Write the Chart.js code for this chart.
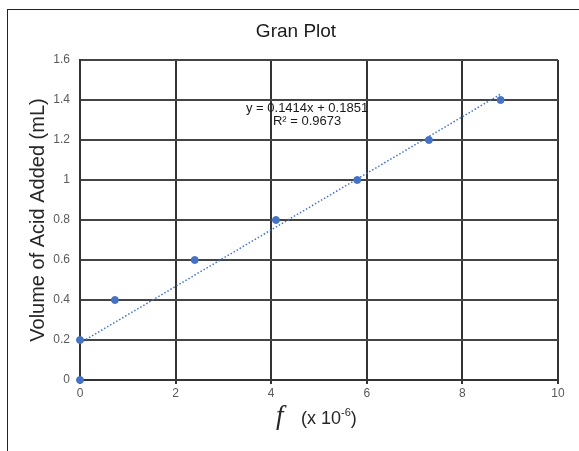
<!DOCTYPE html>
<html>
<head>
<meta charset="utf-8">
<script src="https://cdn.jsdelivr.net/npm/chart.js@4.4.0/dist/chart.umd.min.js"></script>
<style>
  body { margin: 0; background: #fff; }
  #wrap { position: relative; width: 579px; height: 451px; overflow: hidden; }
  #frame { position: absolute; left: 7px; top: 9px; width: 620px; height: 520px; border: 1px solid #222; }
  #granChart { position: absolute; left: 0; top: 0; }
</style>
</head>
<body>
<div id="wrap">
  <div id="frame"></div>
  <canvas id="granChart" width="579" height="451"></canvas>
</div>
<script>
// f values (x 10^-6) and volume of acid added (mL)
const fValues = [0, 0, 0.73, 2.4, 4.1, 5.8, 7.3, 8.8];
const acidVolumes = [0, 0.2, 0.4, 0.6, 0.8, 1.0, 1.2, 1.4];

// linear trendline from the fit
const slope = 0.1414;
const intercept = 0.1851;
const rSquared = 0.9673;
const trendX = [0, 8.8];

const xTicks = [0, 2, 4, 6, 8, 10];
const yTicks = [0, 0.2, 0.4, 0.6, 0.8, 1, 1.2, 1.4, 1.6];

const blue = '#4472C4';
const font = "'Liberation Sans', Arial, sans-serif";

const points = fValues.map((x, i) => ({ x: x, y: acidVolumes[i] }));
const trend = trendX.map(x => ({ x: x, y: slope * x + intercept }));

// chart title, x axis title with superscript, trendline equation
const labelsPlugin = {
    id: 'labels',
    afterDraw(chart) {
        const ctx = chart.ctx;
        const xs = chart.scales.x, ys = chart.scales.y;
        ctx.save();
        ctx.fillStyle = '#1a1a1a';
        ctx.textAlign = 'center';
        ctx.textBaseline = 'middle';
        ctx.font = '19px ' + font;
        ctx.fillText('Gran Plot', 296, 32);

        ctx.font = '13px ' + font;
        const cx = xs.getPixelForValue(4.75);
        ctx.fillText('y = ' + slope + 'x + ' + intercept, cx, ys.getPixelForValue(1.36));
        ctx.fillText('R\u00B2 = ' + rSquared, cx, ys.getPixelForValue(1.295));

        ctx.fillStyle = '#262626';
        ctx.textAlign = 'left';
        ctx.textBaseline = 'alphabetic';
        const base = 424;
        let x = 276;
        ctx.font = 'italic 27px "Liberation Serif", serif';
        ctx.fillText('f', x, base);
        x = 301;
        ctx.font = '18px ' + font;
        ctx.fillText('(x 10', x, base);
        x += ctx.measureText('(x 10').width;
        ctx.font = '11px ' + font;
        ctx.fillText('-6', x, base - 8);
        x += ctx.measureText('-6').width;
        ctx.font = '18px ' + font;
        ctx.fillText(')', x, base);
        ctx.restore();
    }
};

new Chart(document.getElementById('granChart').getContext('2d'), {
    type: 'scatter',
    data: {
        datasets: [{
            data: points,
            backgroundColor: blue,
            borderColor: blue,
            pointRadius: 3.5,
            clip: false,
            order: 1
        }, {
            type: 'line',
            data: trend,
            borderColor: blue,
            borderWidth: 1.5,
            borderDash: [1.5, 2],
            pointRadius: 0,
            fill: false,
            order: 2
        }]
    },
    options: {
        responsive: false,
        animation: false,
        layout: { padding: { top: 60, right: 21, bottom: 0, left: 0 } },
        plugins: { legend: { display: false }, tooltip: { enabled: false } },
        scales: {
            x: {
                type: 'linear',
                min: 0,
                max: 10,
                afterBuildTicks: s => { s.ticks = xTicks.map(v => ({ value: v })); },
                afterFit: s => { s.height = 71; },
                grid: { color: '#333', lineWidth: 2, tickLength: 4 },
                border: { color: '#333', width: 2 },
                ticks: { color: '#595959', font: { size: 12, family: font }, padding: 2, maxRotation: 0,
                         callback: v => String(v) },
                title: { display: false }
            },
            y: {
                type: 'linear',
                min: 0,
                max: 1.6,
                afterBuildTicks: s => { s.ticks = yTicks.map(v => ({ value: v })); },
                afterFit: s => { s.width = 80; },
                grid: { color: '#444', lineWidth: 2, tickLength: 0 },
                border: { color: '#333', width: 2 },
                ticks: { color: '#595959', font: { size: 12, family: font }, padding: 10,
                         callback: v => String(v) },
                title: {
                    display: true,
                    text: 'Volume of Acid Added (mL)',
                    color: '#262626',
                    font: { size: 20, family: font },
                    padding: { top: 26, bottom: 0 }
                }
            }
        }
    },
    plugins: [labelsPlugin]
});
</script>
</body>
</html>
